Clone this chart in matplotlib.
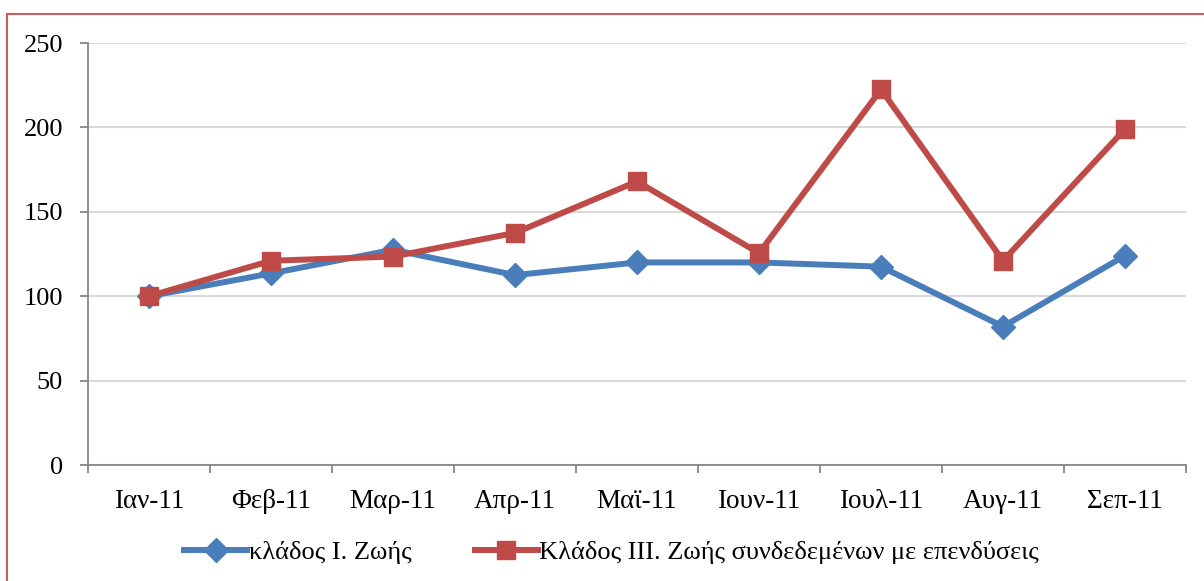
import matplotlib
matplotlib.use("Agg")
import matplotlib.pyplot as plt
from matplotlib.patches import Rectangle
import numpy as np

categories = ["Ιαν-11", "Φεβ-11", "Μαρ-11", "Απρ-11", "Μαϊ-11", "Ιουν-11", "Ιουλ-11", "Αυγ-11", "Σεπ-11"]
series1_name = "κλάδος Ι. Ζωής"
series1 = [100, 113.5, 127.5, 112.5, 120, 120, 117.5, 82, 124]
series2_name = "Κλάδος ΙΙΙ. Ζωής συνδεδεμένων με επενδύσεις"
series2 = [100, 121, 123.5, 137.5, 168, 125.5, 222.5, 121, 199]
yticks = [0, 50, 100, 150, 200, 250]

plt.rcParams['font.family'] = ['Liberation Serif', 'DejaVu Serif']

fig = plt.figure(figsize=(12.04, 5.81), dpi=100)
ax = fig.add_axes([88/1204, 1-465/581, (1186-88)/1204, (465-43)/581])

x = np.arange(len(categories))
blue = '#4A7EBB'
red = '#BE4B48'
ax.plot(x, series1, color=blue, lw=4.3, marker='D', markersize=12, label=series1_name, zorder=3)
ax.plot(x, series2, color=red, lw=4.3, marker='s', markersize=13.5, label=series2_name, zorder=4)

ax.set_xlim(-0.5, len(categories)-0.5)
ax.set_ylim(0, 250)
ax.set_yticks(yticks)
ax.set_yticklabels([str(v) for v in yticks], fontsize=19)
ax.set_xticks(x)
ax.set_xticklabels(categories, fontsize=19.5)
ax.set_xticks(np.arange(-0.5, len(categories), 1), minor=True)
ax.tick_params(axis='x', which='major', length=0, pad=17)
ax.tick_params(axis='x', which='minor', length=6, width=1.3, color='#868686', direction='out')
ax.tick_params(axis='y', length=6, width=1.3, color='#868686', pad=12)

ax.grid(axis='y', color='#D9D9D9', lw=1.5, zorder=0)
for s in ['top', 'right']:
    ax.spines[s].set_visible(False)
for s in ['left', 'bottom']:
    ax.spines[s].set_color('#868686')
    ax.spines[s].set_linewidth(1.3)
ax.set_axisbelow(True)

leg = fig.legend(loc='center', bbox_to_anchor=(0.508, 1-552/581), ncol=2, frameon=False,
                 fontsize=19, handlelength=2.4, handletextpad=0.05, columnspacing=2.4)

fig.patches.append(Rectangle((7/1204, -0.1), 1.2, 1-14/581+0.1, transform=fig.transFigure,
                             fill=False, edgecolor='#C9605D', lw=1.5))

fig.savefig('out.png', dpi=100)
